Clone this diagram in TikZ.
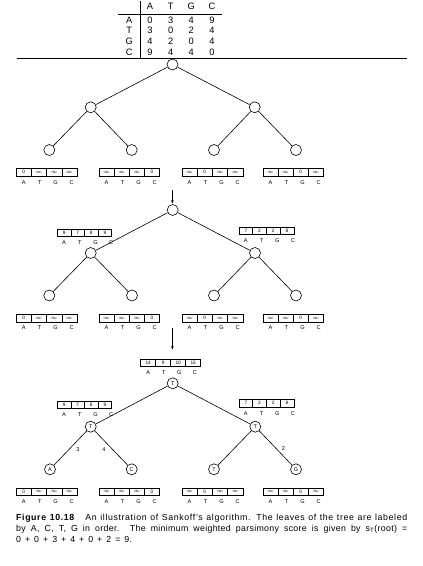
\documentclass[tikz,border=0pt]{standalone}
\usepackage{fontspec}
\setmainfont{Liberation Sans}
\usetikzlibrary{arrows.meta}
\tikzset{
 vert/.style={circle,draw,line width=0.6pt,minimum size=11pt,inner sep=0pt,fill=white,font=\fontsize{5.5}{6}\selectfont},
 edge/.style={line width=0.6pt},
 arrline/.style={line width=0.45pt},
 val/.style={inner sep=0pt,font=\fontsize{4.8}{5}\selectfont},
 lab/.style={inner sep=0pt,font=\fontsize{5.6}{6}\selectfont},
 tab/.style={inner sep=0pt,font=\fontsize{9.3}{10}\selectfont},
 wlab/.style={inner sep=0pt,font=\fontsize{5.6}{6}\selectfont},
 flow/.style={line width=0.5pt,-{Stealth[length=3.5pt,width=2.6pt]}},
 rule/.style={line width=0.5pt},
}
% #1 name, #2 x left, #3 y centre, #4 cell width, #5-#8 values, #9 letter spacing
\newcommand{\sarr}[9]{%
 \begin{scope}[shift={(#2,#3)}]
 \draw[arrline] (0,-3.6) rectangle ({4*#4},3.6);
 \foreach \k in {1,2,3} \draw[arrline] ({\k*#4},-3.6) -- ({\k*#4},3.6);
 \node[val] (#1-a) at ({0.5*#4},0) {#5};
 \node[val] (#1-t) at ({1.5*#4},0) {#6};
 \node[val] (#1-g) at ({2.5*#4},0) {#7};
 \node[val] (#1-c) at ({3.5*#4},0) {#8};
 \node[lab] (#1-la) at ({0.5*#4},9.8) {A};
 \node[lab] (#1-lt) at ({0.5*#4+#9},9.8) {T};
 \node[lab] (#1-lg) at ({0.5*#4+2*#9},9.8) {G};
 \node[lab] (#1-lc) at ({0.5*#4+3*#9},9.8) {C};
 \end{scope}}
\newcommand{\I}{$\infty$}
\begin{document}
\begin{tikzpicture}[x=1pt,y=-1pt]
\useasboundingbox (0,0) rectangle (423,566);
% cost table
\node[tab] (h1) at (150,6.7) {A};
\node[tab] (h2) at (170.7,6.7) {T};
\node[tab] (h3) at (191.3,6.7) {G};
\node[tab] (h4) at (212,6.7) {C};
\foreach \r/\yy/\a/\b/\c/\d in {A/20/0/3/4/9, T/30.7/3/0/2/4, G/41.5/4/2/0/4, C/52.3/9/4/4/0}{
  \node[tab] (row\r) at (129.3,\yy) {\r};
  \node[tab] (row\r-1) at (150,\yy) {\a};
  \node[tab] (row\r-2) at (170.7,\yy) {\b};
  \node[tab] (row\r-3) at (191.3,\yy) {\c};
  \node[tab] (row\r-4) at (212,\yy) {\d};
}
\draw[rule] (140.7,1) -- (140.7,58.3);
\draw[rule] (118,14) -- (222,14);
\draw[rule] (16.7,58.3) -- (407.3,58.3);

% tree 1
\node[vert] (r1) at (172.5,64.5) {};
\node[vert] (l1) at (90.7,107.3) {};
\node[vert] (q1) at (254.7,107.3) {};
\node[vert] (la1) at (49.3,150) {};
\node[vert] (lb1) at (131.7,150) {};
\node[vert] (lc1) at (214,150) {};
\node[vert] (ld1) at (296,150) {};
\draw[edge] (r1) -- (l1); \draw[edge] (r1) -- (q1);
\draw[edge] (l1) -- (la1); \draw[edge] (l1) -- (lb1);
\draw[edge] (q1) -- (lc1); \draw[edge] (q1) -- (ld1);
\sarr{x1a}{16}{172.3}{15.25}{0}{\I}{\I}{\I}{16}
\sarr{x1b}{99}{172.3}{15.1}{\I}{\I}{\I}{0}{16}
\sarr{x1c}{182}{172.3}{15.2}{\I}{0}{\I}{\I}{16}
\sarr{x1d}{263}{172.3}{15.1}{\I}{\I}{0}{\I}{16}

% arrow 1
\coordinate (s1) at (172.4,190);
\draw[flow] (s1) -- (172.4,203.5);

% tree 2
\node[vert] (r2) at (172.7,210) {};
\node[vert] (l2) at (90.7,253) {};
\node[vert] (q2) at (255,253) {};
\node[vert] (la2) at (49.3,295.5) {};
\node[vert] (lb2) at (132,295.5) {};
\node[vert] (lc2) at (214,295.5) {};
\node[vert] (ld2) at (296,295.5) {};
\sarr{x2l}{57.3}{232.6}{13.6}{9}{7}{8}{9}{15.7}
\sarr{x2r}{239}{231}{13.7}{7}{2}{2}{8}{15.7}
\draw[edge] (r2) -- (l2); \draw[edge] (r2) -- (q2);
\draw[edge] (l2) -- (la2); \draw[edge] (l2) -- (lb2);
\draw[edge] (q2) -- (lc2); \draw[edge] (q2) -- (ld2);
\sarr{x2a}{16}{318.2}{15.25}{0}{\I}{\I}{\I}{16}
\sarr{x2b}{99}{318.2}{15.1}{\I}{\I}{\I}{0}{16}
\sarr{x2c}{182}{318.2}{15.2}{\I}{0}{\I}{\I}{16}
\sarr{x2d}{263}{318.2}{15.1}{\I}{\I}{0}{\I}{16}

% arrow 2
\coordinate (s2) at (172.4,328);
\coordinate (e2) at (172.4,349.5);
\draw[flow] (s2) -- (e2);

% tree 3
\sarr{x3r}{140.7}{362.7}{15}{14}{9}{10}{15}{15.6}
\node[vert] (r3) at (172.7,383.3) {T};
\node[vert] (l3) at (90.7,426.7) {T};
\node[vert] (q3) at (255.3,426.7) {T};
\node[vert] (la3) at (50,469.3) {A};
\node[vert] (lb3) at (131.7,469.3) {C};
\node[vert] (lc3) at (214,469.3) {T};
\node[vert] (ld3) at (296,469.3) {G};
\sarr{x3l}{57.3}{405}{13.6}{9}{7}{8}{9}{15.7}
\sarr{x3q}{239}{403.3}{13.7}{7}{2}{2}{8}{15.7}
\draw[edge] (r3) -- (l3); \draw[edge] (r3) -- (q3);
\draw[edge] (l3) -- node[wlab,pos=0.56,xshift=9.5pt] (w3) {3} (la3);
\draw[edge] (l3) -- node[wlab,pos=0.54,xshift=-8.5pt] (w4) {4} (lb3);
\draw[edge] (q3) -- (lc3);
\draw[edge] (q3) -- node[wlab,pos=0.53,xshift=6.8pt] (w2) {2} (ld3);
\sarr{x3a}{16}{491.7}{15.25}{0}{\I}{\I}{\I}{16}
\sarr{x3b}{99}{491.7}{15.1}{\I}{\I}{\I}{0}{16}
\sarr{x3c}{182}{491.7}{15.2}{\I}{0}{\I}{\I}{16}
\sarr{x3d}{263}{491.7}{15.1}{\I}{\I}{0}{\I}{16}

% caption
\node[anchor=north west,inner sep=0pt,text width=391pt,align=justify,font=\fontsize{8.8}{10.9}\selectfont\addfontfeature{LetterSpace=3.5}] (cap) at (16,514.3)
 {{\addfontfeature{LetterSpace=7}\textbf{Figure 10.18}\hspace{1.2em}An illustration of Sankoff's algorithm. The leaves of the tree are labeled}\linebreak
  by A, C, T, G in order. The minimum weighted parsimony score is given by s\textsubscript{T}(root) =\linebreak
  \spaceskip=4pt 0 + 0 + 3 + 4 + 0 + 2 = 9.};
\end{tikzpicture}
\end{document}
